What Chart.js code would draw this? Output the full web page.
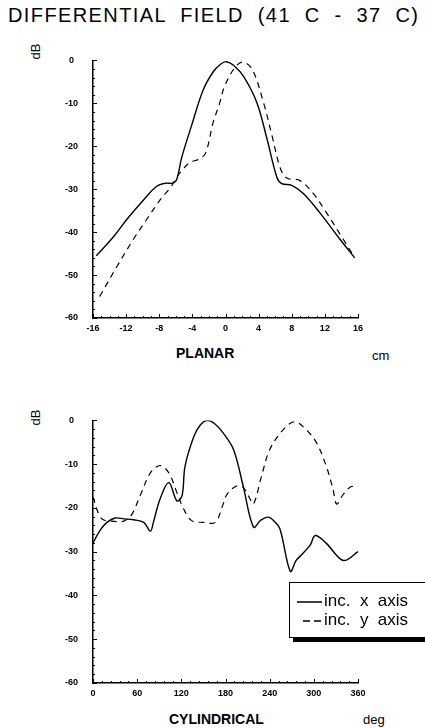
<!DOCTYPE html>
<html>
<head>
<meta charset="utf-8">
<script src="https://cdn.jsdelivr.net/npm/chart.js@4.4.0/dist/chart.umd.min.js"></script>
<style>
  body { margin: 0; background: #fff; width: 425px; height: 728px; overflow: hidden; position: relative; font-family: "Liberation Sans", Arial, sans-serif; color: #000; }
  .abs { position: absolute; white-space: pre; }
  canvas { position: absolute; left: 0; }
  #legend { position: absolute; left: 289px; top: 582px; width: 150px; height: 54px; border: 1px solid #000; background: #fff; box-shadow: 4px 4px 0 #000; }
  .row { position: absolute; left: 7px; font-size: 17px; line-height: 19px; white-space: pre; }
  .row svg { vertical-align: middle; margin-right: 2px; }
</style>
</head>
<body>
<div class="abs" style="left:8px; top:4px; font-size:20px; letter-spacing:1.4px;">DIFFERENTIAL  FIELD  (41  C  -  37  C)</div>

<div class="abs" style="left:28px; top:44px; font-size:13px; transform:rotate(-90deg);">dB</div>
<canvas id="planar" width="425" height="300" style="top:40px"></canvas>
<div class="abs" style="left:176px; top:345px; font-size:14px; font-weight:bold;">PLANAR</div>
<div class="abs" style="left:372px; top:348px; font-size:13px;">cm</div>

<div class="abs" style="left:28px; top:410px; font-size:13px; transform:rotate(-90deg);">dB</div>
<canvas id="cyl" width="425" height="305" style="top:400px"></canvas>
<div class="abs" style="left:169px; top:711px; font-size:14px; font-weight:bold;">CYLINDRICAL</div>
<div class="abs" style="left:363px; top:712px; font-size:13px;">deg</div>

<div id="legend">
  <div class="row" style="top:8px"><svg width="25" height="4"><line x1="0" y1="2" x2="25" y2="2" stroke="#000" stroke-width="1.5"/></svg>inc.  x  axis</div>
  <div class="row" style="top:27px"><svg width="25" height="4"><line x1="6" y1="2" x2="25" y2="2" stroke="#000" stroke-width="1.5" stroke-dasharray="7,4"/></svg>inc.  y  axis</div>
</div>

<script>
// planar scan, position in cm
var planarXCm = [-15.6, -13.5, -11.9, -9.9, -8.3, -7.2, -6.4, -5.9, -5.3, -4.1, -2.7, -1.5, -0.6, 0.1, 1.0, 2.2, 3.8, 5.0, 6.2, 6.8, 8.0, 9.4, 11.4, 13.8, 15.6];
var planarXDb = [-45.5, -41, -37, -32.5, -29.3, -28.6, -28.6, -27.8, -22.7, -15.2, -6.9, -2.7, -0.9, -0.3, -1.2, -3.8, -9.9, -18.2, -27.2, -28.7, -29.1, -31, -35.5, -41.6, -46];
var planarYCm = [-15.2, -13.2, -11.1, -9.5, -7.9, -6.6, -5.9, -5.3, -4.3, -3.2, -2.4, -1.5, -0.7, -0.2, 0.9, 2.0, 3.2, 4.6, 5.6, 6.6, 7.4, 9.0, 10.6, 12.2, 14.2, 15.4];
var planarYDb = [-55, -48.3, -41.6, -37, -32.5, -29.5, -27.2, -25.7, -23.8, -23, -21.6, -14.5, -9.9, -6.5, -2.3, -0.4, -2, -9.9, -17.4, -25, -27.4, -28, -31, -35.5, -41.6, -45.3];
var planarTicks = [-16, -12, -8, -4, 0, 4, 8, 12, 16];

// cylindrical scan, angle in degrees
var cylXDeg = [0, 10, 19, 30, 42, 55, 69, 78, 82, 91, 103, 114, 121, 125, 137, 146, 155, 165, 177, 191, 204, 218, 228, 238, 246, 254, 268, 276, 284, 295, 302, 317, 340, 360];
var cylXDb = [-28, -25, -23.3, -22.3, -22.5, -22.7, -23.3, -25.3, -23.3, -18, -14.2, -18.4, -17.2, -10.5, -3.7, -1, 0, -0.7, -2.9, -6.7, -15, -24.4, -22.8, -22.1, -23, -24.8, -34.5, -32, -30.6, -28.5, -26.3, -28.1, -32, -30];
var cylYDeg = [0, 8, 14, 25, 42, 53, 64, 78, 91, 103, 114, 123, 134, 150, 166, 176, 182, 195, 204, 212, 218, 229, 240, 258, 274, 290, 304, 317, 326, 331, 340, 351, 359];
var cylYDb = [-17.5, -21.5, -22.7, -23, -23, -21.4, -17.2, -12, -10.3, -12, -16.5, -20.2, -22.9, -23.3, -23.3, -19.5, -16.9, -15, -15.3, -17.5, -19.1, -12.7, -6.7, -2.2, -0.3, -2.2, -5.2, -10.5, -15.7, -19.1, -16.9, -15.1, -15.6];
var cylTicks = [0, 60, 120, 180, 240, 300, 360];

var dbTicks = [0, -10, -20, -30, -40, -50, -60];

function pts(xs, ys) {
    return xs.map(function(x, i) { return { x: x, y: ys[i] }; });
}

// small inward ticks like the original plot
var innerTicks = {
    id: 'innerTicks',
    afterDraw: function(chart, args, opts) {
        var ctx = chart.ctx, a = chart.chartArea, x = chart.scales.x, y = chart.scales.y;
        ctx.save();
        ctx.strokeStyle = '#000';
        ctx.lineWidth = 1;
        ctx.beginPath();
        for (var v = y.min; v <= y.max; v += 2) {
            var py = Math.round(y.getPixelForValue(v)) + 0.5;
            var len = (v % 10 === 0) ? 4 : 2;
            ctx.moveTo(a.left, py); ctx.lineTo(a.left + len, py);
        }
        for (var u = x.min; u <= x.max; u += opts.minor) {
            var px = Math.round(x.getPixelForValue(u)) + 0.5;
            var l2 = ((u - x.min) % opts.major === 0) ? 4 : 2;
            ctx.moveTo(px, a.bottom); ctx.lineTo(px, a.bottom - l2);
        }
        ctx.stroke();
        ctx.restore();
    }
};

function makeChart(id, xMin, xMax, xTicks, minor, major, solid, dashed, pad) {
    var tickFont = { family: 'Liberation Sans', size: 9, weight: 'bold' };
    return new Chart(document.getElementById(id), {
        type: 'line',
        data: {
            datasets: [{
                label: 'inc. x axis',
                data: solid,
                borderColor: '#000',
                borderWidth: 1.4,
                pointRadius: 0,
                tension: 0.35,
                fill: false
            }, {
                label: 'inc. y axis',
                data: dashed,
                borderColor: '#000',
                borderWidth: 1.2,
                borderDash: [6, 5],
                pointRadius: 0,
                tension: 0.35,
                fill: false
            }]
        },
        options: {
            responsive: false,
            animation: false,
            layout: { padding: pad },
            plugins: {
                legend: { display: false },
                tooltip: { enabled: false },
                innerTicks: { minor: minor, major: major }
            },
            scales: {
                x: {
                    type: 'linear',
                    min: xMin,
                    max: xMax,
                    afterBuildTicks: function(s) { s.ticks = xTicks.map(function(v) { return { value: v }; }); },
                    afterFit: function(s) { s.height = 20; },
                    grid: { drawOnChartArea: false, drawTicks: false },
                    border: { color: '#000', width: 1.5 },
                    ticks: { color: '#000', font: tickFont, padding: 5, maxRotation: 0, autoSkip: false }
                },
                y: {
                    min: -60,
                    max: 0,
                    afterBuildTicks: function(s) { s.ticks = dbTicks.map(function(v) { return { value: v }; }); },
                    afterFit: function(s) { s.width = 40; },
                    grid: { drawOnChartArea: false, drawTicks: false },
                    border: { color: '#000', width: 1.5 },
                    ticks: { color: '#000', font: tickFont, padding: 15, crossAlign: 'center' }
                }
            }
        },
        plugins: [innerTicks]
    });
}

makeChart('planar', -16, 16, planarTicks, 1, 4,
    pts(planarXCm, planarXDb), pts(planarYCm, planarYDb),
    { left: 53, right: 67, top: 13, bottom: 2 });

makeChart('cyl', 0, 360, cylTicks, 12, 60,
    pts(cylXDeg, cylXDb), pts(cylYDeg, cylYDb),
    { left: 53, right: 67, top: 17, bottom: 2 });
</script>
</body>
</html>
